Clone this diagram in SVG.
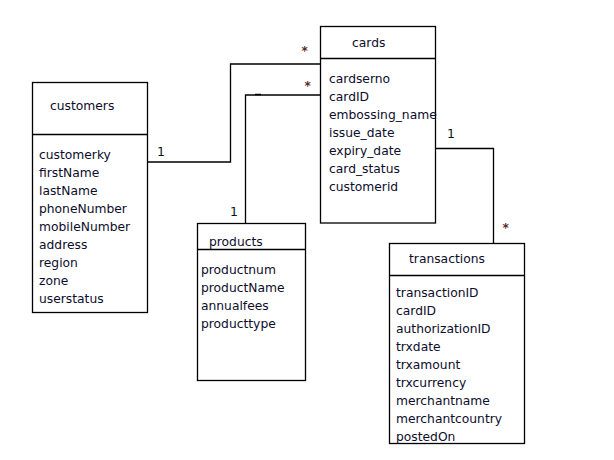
<svg xmlns="http://www.w3.org/2000/svg" width="614" height="460" viewBox="0 0 614 460">
<style>
.box{fill:#fff;stroke:#000;stroke-width:1.3}
.ln{stroke:#000;stroke-width:1.3;fill:none}
text{font-family:"DejaVu Sans",sans-serif;font-size:12.3px;fill:#0d0d2b}
.m{font-family:"DejaVu Sans",sans-serif;font-size:12.5px;fill:#111}
.st{font-family:"DejaVu Sans",sans-serif;font-size:12px;font-weight:bold;fill:#5a2a2a}
</style>
<rect width="614" height="460" fill="#fff"/>
<g id="connectors">
<polyline class="ln" points="147,162 230.5,162 230.5,64 320,64"/>
<polyline class="ln" points="245.5,223 245.5,95 320,95"/>
<line x1="255" y1="94.5" x2="261" y2="94.5" stroke="#000" stroke-width="1.5"/>
<polyline class="ln" points="435,148.5 493.5,148.5 493.5,243"/>
<text class="m" x="157" y="156">1</text>
<text class="m" x="230" y="216">1</text>
<text class="m" x="447" y="138">1</text>
<text class="st" x="301.5" y="55">*</text>
<text class="st" x="304.5" y="90">*</text>
<text class="st" x="502.5" y="232">*</text>
</g>
<g id="customers">
<rect class="box" x="32.5" y="82.5" width="115" height="230"/>
<line class="ln" x1="32.5" y1="134.5" x2="148" y2="134.5"/>
<text x="50" y="110">customers</text>
<text x="39" y="159">customerky</text>
<text x="39" y="177">firstName</text>
<text x="39" y="195">lastName</text>
<text x="39" y="213">phoneNumber</text>
<text x="39" y="231">mobileNumber</text>
<text x="39" y="249">address</text>
<text x="39" y="267">region</text>
<text x="39" y="285">zone</text>
<text x="39" y="303">userstatus</text>
</g>
<g id="cards">
<rect class="box" x="320.5" y="26.5" width="115" height="196.5"/>
<line class="ln" x1="320.5" y1="58.5" x2="435.5" y2="58.5"/>
<text x="352" y="47">cards</text>
<text x="329" y="83">cardserno</text>
<text x="329" y="101">cardID</text>
<text x="329" y="119">embossing_name</text>
<text x="329" y="137">issue_date</text>
<text x="329" y="155">expiry_date</text>
<text x="329" y="173">card_status</text>
<text x="329" y="191">customerid</text>
</g>
<g id="products">
<rect class="box" x="197.5" y="223.5" width="108" height="157"/>
<line class="ln" x1="197.5" y1="249.5" x2="305.5" y2="249.5"/>
<text x="209" y="246">products</text>
<text x="201" y="274">productnum</text>
<text x="201" y="292">productName</text>
<text x="201" y="310">annualfees</text>
<text x="201" y="328">producttype</text>
</g>
<g id="transactions">
<rect class="box" x="389.5" y="243.5" width="135" height="200"/>
<line class="ln" x1="389.5" y1="275.5" x2="524.5" y2="275.5"/>
<text x="409" y="263">transactions</text>
<text x="396" y="297">transactionID</text>
<text x="396" y="315">cardID</text>
<text x="396" y="333">authorizationID</text>
<text x="396" y="351">trxdate</text>
<text x="396" y="369">trxamount</text>
<text x="396" y="387">trxcurrency</text>
<text x="396" y="405">merchantname</text>
<text x="396" y="423">merchantcountry</text>
<text x="396" y="441">postedOn</text>
</g>
</svg>
